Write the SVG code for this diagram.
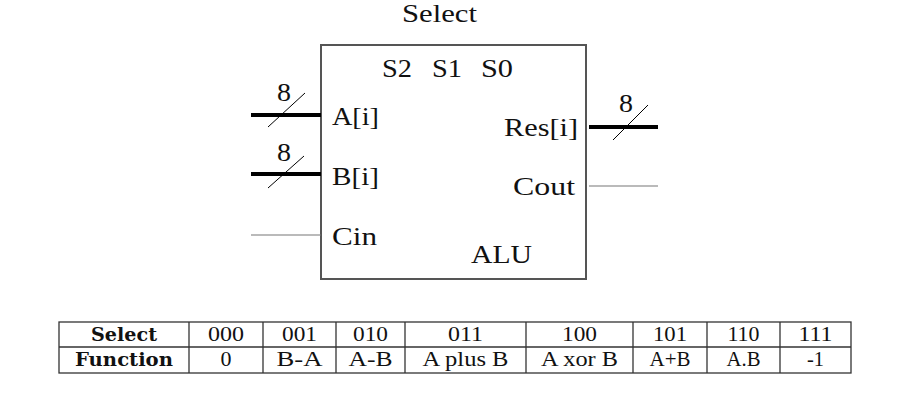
<svg xmlns="http://www.w3.org/2000/svg" width="917" height="415" viewBox="0 0 917 415">
<style>
.t{font-family:"Liberation Serif","Times New Roman",serif;font-size:25px;fill:#111}
.tb{font-family:"Liberation Serif","Times New Roman",serif;font-size:22px;fill:#111;text-anchor:middle}
.b{font-family:"DejaVu Serif","Liberation Serif",serif;font-weight:bold;font-size:19px}
.bus{stroke:#000;stroke-width:4;fill:none}
.thin{stroke:#777;stroke-width:1.2;fill:none}
.sl{stroke:#000;stroke-width:1;fill:none}
.grid{stroke:#333;stroke-width:1.3;fill:none}
</style>
<rect width="917" height="415" fill="#fff"/>
<g id="alu">
<rect x="321" y="45" width="265" height="234" fill="#fff" stroke="#555" stroke-width="2"/>
<text class="t" x="402" y="22" textLength="75" lengthAdjust="spacingAndGlyphs">Select</text>
<text class="t" y="77"><tspan x="382" textLength="30" lengthAdjust="spacingAndGlyphs">S2</tspan><tspan x="432" textLength="30" lengthAdjust="spacingAndGlyphs">S1</tspan><tspan x="481" textLength="32" lengthAdjust="spacingAndGlyphs">S0</tspan></text>
<text class="t" x="332" y="125" textLength="47" lengthAdjust="spacingAndGlyphs">A[i]</text>
<text class="t" x="332" y="185" textLength="47" lengthAdjust="spacingAndGlyphs">B[i]</text>
<text class="t" x="332" y="245" textLength="45" lengthAdjust="spacingAndGlyphs">Cin</text>
<text class="t" x="504" y="136" textLength="74" lengthAdjust="spacingAndGlyphs">Res[i]</text>
<text class="t" x="513" y="195" textLength="62" lengthAdjust="spacingAndGlyphs">Cout</text>
<text class="t" x="471" y="263" textLength="61" lengthAdjust="spacingAndGlyphs">ALU</text>
</g>
<g id="connectors">
<line class="bus" x1="251" y1="115" x2="321" y2="115"/>
<line class="sl" x1="268" y1="127" x2="305" y2="93"/>
<text class="t" x="277" y="101" textLength="14" lengthAdjust="spacingAndGlyphs">8</text>
<line class="bus" x1="251" y1="174" x2="321" y2="174"/>
<line class="sl" x1="268" y1="188" x2="304" y2="156"/>
<text class="t" x="277" y="161" textLength="14" lengthAdjust="spacingAndGlyphs">8</text>
<line class="thin" x1="251" y1="235" x2="321" y2="235"/>
<line class="bus" x1="589" y1="127" x2="658" y2="127"/>
<line class="sl" x1="613" y1="140" x2="648" y2="105"/>
<text class="t" x="619" y="112" textLength="14" lengthAdjust="spacingAndGlyphs">8</text>
<line class="thin" x1="589" y1="186" x2="658" y2="186"/>
</g>
<g id="table">
<rect class="grid" x="59" y="322" width="792" height="51"/>
<line class="grid" x1="59" y1="347" x2="851" y2="347"/>
<line class="grid" x1="189" y1="322" x2="189" y2="373"/>
<line class="grid" x1="263" y1="322" x2="263" y2="373"/>
<line class="grid" x1="336" y1="322" x2="336" y2="373"/>
<line class="grid" x1="405" y1="322" x2="405" y2="373"/>
<line class="grid" x1="526" y1="322" x2="526" y2="373"/>
<line class="grid" x1="633" y1="322" x2="633" y2="373"/>
<line class="grid" x1="707" y1="322" x2="707" y2="373"/>
<line class="grid" x1="780" y1="322" x2="780" y2="373"/>
<text class="tb b" x="124" y="341" textLength="66" lengthAdjust="spacingAndGlyphs">Select</text>
<text class="tb" x="226" y="341" textLength="36" lengthAdjust="spacingAndGlyphs">000</text>
<text class="tb" x="299.5" y="341" textLength="35" lengthAdjust="spacingAndGlyphs">001</text>
<text class="tb" x="370.5" y="341" textLength="35" lengthAdjust="spacingAndGlyphs">010</text>
<text class="tb" x="465.5" y="341" textLength="35" lengthAdjust="spacingAndGlyphs">011</text>
<text class="tb" x="579.5" y="341" textLength="35" lengthAdjust="spacingAndGlyphs">100</text>
<text class="tb" x="670" y="341" textLength="34" lengthAdjust="spacingAndGlyphs">101</text>
<text class="tb" x="743.5" y="341" textLength="32" lengthAdjust="spacingAndGlyphs">110</text>
<text class="tb" x="815.5" y="341" textLength="34" lengthAdjust="spacingAndGlyphs">111</text>
<text class="tb b" x="124" y="366" textLength="98" lengthAdjust="spacingAndGlyphs">Function</text>
<text class="tb" x="226" y="366" textLength="11" lengthAdjust="spacingAndGlyphs">0</text>
<text class="tb" x="299.5" y="366" textLength="46" lengthAdjust="spacingAndGlyphs">B-A</text>
<text class="tb" x="370.5" y="366" textLength="44" lengthAdjust="spacingAndGlyphs">A-B</text>
<text class="tb" x="465.5" y="366" textLength="86" lengthAdjust="spacingAndGlyphs">A plus B</text>
<text class="tb" x="579.5" y="366" textLength="77" lengthAdjust="spacingAndGlyphs">A xor B</text>
<text class="tb" x="670" y="366" textLength="41" lengthAdjust="spacingAndGlyphs">A+B</text>
<text class="tb" x="743.5" y="366" textLength="34" lengthAdjust="spacingAndGlyphs">A.B</text>
<text class="tb" x="815.5" y="366" textLength="17" lengthAdjust="spacingAndGlyphs">-1</text>
</g>
</svg>
